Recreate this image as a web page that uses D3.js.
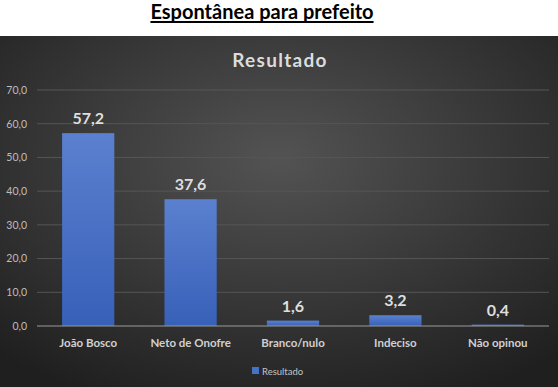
<!DOCTYPE html>
<html>
<head>
<meta charset="utf-8">
<script src="https://cdn.jsdelivr.net/npm/d3@7"></script>
<style>
body{margin:0;background:#fff;}
svg{display:block;}
</style>
</head>
<body>
<svg id="chart" width="558" height="387"></svg>
<script>
//Chart data.
var categories = ["João Bosco", "Neto de Onofre", "Branco/nulo", "Indeciso", "Não opinou"];
var values = [57.2, 37.6, 1.6, 3.2, 0.4];
var yTicks = [0, 10, 20, 30, 40, 50, 60, 70];
var seriesName = "Resultado";

var fontFamily = "Lato, 'Open Sans', sans-serif";
var svg = d3.select("#chart");
var fmt = function(v){ return v.toFixed(1).replace(".", ","); };

//Gradients for background and bars.
var defs = svg.append("defs");
var bg = defs.append("radialGradient")
	.attr("id", "bg_grad")
	.attr("cx", "50%").attr("cy", "35%").attr("r", "75%");
bg.append("stop").attr("offset", "0%").attr("stop-color", "#535353");
bg.append("stop").attr("offset", "100%").attr("stop-color", "#1f1f1f");

var barGrad = defs.append("linearGradient")
	.attr("id", "bar_grad")
	.attr("x1", 0).attr("y1", 0).attr("x2", 0).attr("y2", 1);
barGrad.append("stop").attr("offset", "0%").attr("stop-color", "#5b80cf");
barGrad.append("stop").attr("offset", "100%").attr("stop-color", "#3760b8");

//Page title.
var title = svg.append("text")
	.attr("x", 262)
	.attr("y", 19)
	.attr("text-anchor", "middle")
	.attr("font-family", fontFamily)
	.attr("font-weight", "bold")
	.attr("font-size", "20px")
	.attr("fill", "#000")
	.text("Espontânea para prefeito");
var tb = title.node().getBBox();
svg.append("rect")
	.attr("x", tb.x).attr("y", 21)
	.attr("width", tb.width).attr("height", 2)
	.attr("fill", "#000");

//Dark chart panel.
svg.append("rect")
	.attr("x", 0).attr("y", 36)
	.attr("width", 558).attr("height", 351)
	.attr("fill", "url(#bg_grad)");

svg.append("text")
	.attr("x", 280)
	.attr("y", 67)
	.attr("text-anchor", "middle")
	.attr("font-family", fontFamily)
	.attr("font-weight", "bold")
	.attr("font-size", "19px")
	.attr("letter-spacing", "1.3px")
	.attr("fill", "#dcdcdc")
	.text(seriesName);

//Scales.
var x = d3.scaleBand()
	.domain(categories)
	.range([37, 549])
	.paddingInner(0.49)
	.paddingOuter(0.245);

var y = d3.scaleLinear()
	.domain([0, 70])
	.range([326, 90]);

//Gridlines.
svg.append("g")
	.selectAll("line")
	.data(yTicks.filter(function(d){ return d > 0; }))
	.enter()
	.append("line")
	.attr("x1", 37).attr("x2", 549)
	.attr("y1", function(d){ return y(d); })
	.attr("y2", function(d){ return y(d); })
	.attr("stroke", "#565656")
	.attr("stroke-width", 1);

//Y axis labels.
var yAxis = d3.axisLeft(y)
	.tickValues(yTicks)
	.tickFormat(fmt)
	.tickSize(0)
	.tickPadding(0);
var yg = svg.append("g")
	.attr("transform", "translate(27,0)")
	.call(yAxis);
yg.select(".domain").remove();
yg.selectAll("text")
	.attr("font-family", fontFamily)
	.attr("font-size", "10.5px")
	.attr("fill", "#bdbdbd");

//Bars.
svg.append("g")
	.selectAll("rect")
	.data(values)
	.enter()
	.append("rect")
	.attr("x", function(d, i){ return x(categories[i]); })
	.attr("y", function(d){ return y(d); })
	.attr("width", x.bandwidth())
	.attr("height", function(d){ return y(0) - y(d); })
	.attr("fill", "url(#bar_grad)");

//Value labels.
svg.append("g")
	.selectAll("text")
	.data(values)
	.enter()
	.append("text")
	.attr("x", function(d, i){ return x(categories[i]) + x.bandwidth() / 2; })
	.attr("y", function(d){ return y(d) - 9; })
	.attr("text-anchor", "middle")
	.attr("font-family", fontFamily)
	.attr("font-weight", "bold")
	.attr("font-size", "16px")
	.attr("fill", "#dedede")
	.text(fmt);

//Baseline.
svg.append("line")
	.attr("x1", 37).attr("x2", 549)
	.attr("y1", y(0)).attr("y2", y(0))
	.attr("stroke", "#9a9a9a")
	.attr("stroke-width", 1);

//X axis labels.
var xAxis = d3.axisBottom(x).tickSize(0).tickPadding(0);
var xg = svg.append("g")
	.attr("transform", "translate(0,339)")
	.call(xAxis);
xg.select(".domain").remove();
xg.selectAll("text")
	.attr("font-family", fontFamily)
	.attr("font-weight", "bold")
	.attr("font-size", "11.5px")
	.attr("fill", "#d0d0d0");

//Legend.
var legend = svg.append("g").attr("transform", "translate(252,367)");
legend.append("rect")
	.attr("width", 7).attr("height", 7)
	.attr("fill", "#4472c4");
legend.append("text")
	.attr("x", 10).attr("y", 7.5)
	.attr("font-family", fontFamily)
	.attr("font-size", "9.5px")
	.attr("fill", "#c4c4c4")
	.text(seriesName);
</script>
</body>
</html>
